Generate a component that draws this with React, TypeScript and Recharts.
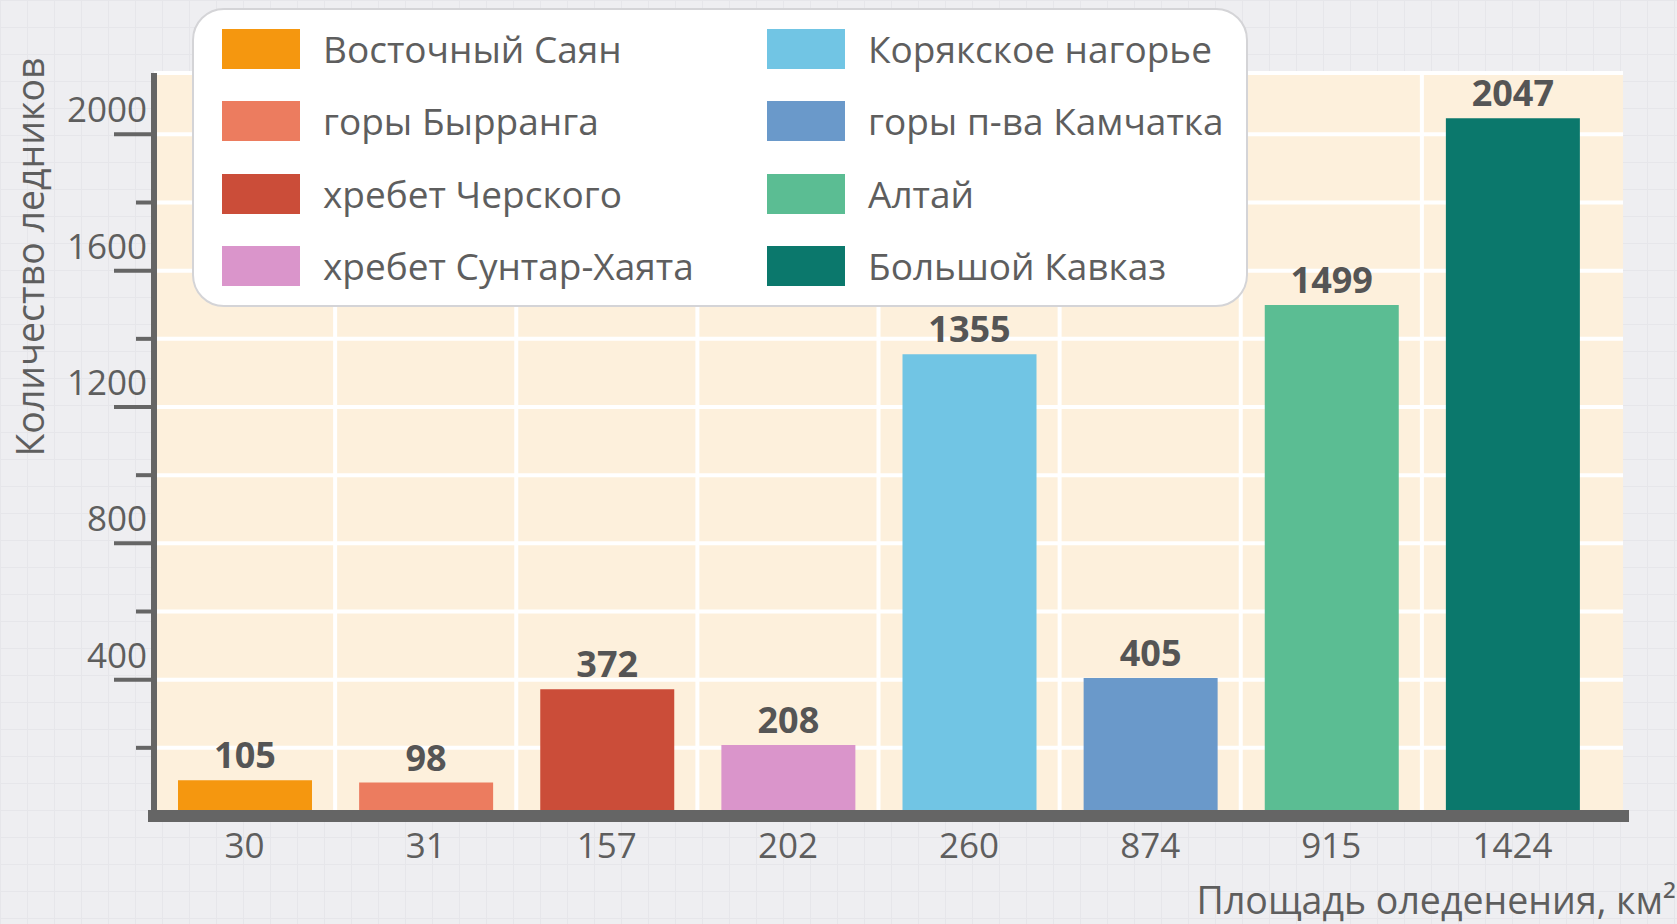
import React from 'react';
import { BarChart, Bar, XAxis, YAxis, CartesianGrid, Cell, LabelList, Legend } from 'recharts';

const areas = ['30', '31', '157', '202', '260', '874', '915', '1424'];
const regions = [
  'Восточный Саян',
  'горы Бырранга',
  'хребет Черского',
  'хребет Сунтар-Хаята',
  'Корякское нагорье',
  'горы п-ва Камчатка',
  'Алтай',
  'Большой Кавказ',
];
const glacierCounts = [105, 98, 372, 208, 1355, 405, 1499, 2047];
const barColors = ['#f5970f', '#ec7c5f', '#cb4d39', '#da95cb', '#71c5e4', '#6a99ca', '#5bbd93', '#0b786c'];
const yTicks = [0, 200, 400, 600, 800, 1000, 1200, 1400, 1600, 1800, 2000];

const data = areas.map((a, i) => ({ area: a, region: regions[i], count: glacierCounts[i] }));

const FONT = '"Open Sans", "Noto Sans", sans-serif';
const TEXT = '#5e5e5e';
const AXIS = '#656565';
const X_PAD_RIGHT = 20;

// vertical grid lines at the boundaries between category bands, from the axis' band scale
const bandBoundaries = (props: any) => {
  const { xAxis, offset } = props || {};
  const s = xAxis && xAxis.scale;
  if (s && typeof s === 'function') {
    const pts = areas
      .slice(1)
      .map((a) => s(a))
      .filter((v: any) => typeof v === 'number' && isFinite(v));
    if (pts.length === areas.length - 1) return pts;
  }
  const step = (offset.width - X_PAD_RIGHT) / areas.length;
  return areas.slice(1).map((_, i) => offset.left + step * (i + 1));
};

const YTick = (props: any) => {
  const { x, y, payload } = props;
  const v = payload.value;
  if (v === 0) return <g />;
  const major = v % 400 === 0;
  return (
    <g>
      <line x1={x - (major ? 40 : 18)} x2={x} y1={y} y2={y} stroke={AXIS} strokeWidth={4} />
      {major && (
        <text x={x - 7} y={y - 12} textAnchor="end" fill={TEXT} fontSize={35} fontFamily={FONT}>
          {v}
        </text>
      )}
    </g>
  );
};

const XTick = (props: any) => {
  const { x, y, payload } = props;
  return (
    <text x={x} y={y + 42} textAnchor="middle" fill={TEXT} fontSize={35} fontFamily={FONT}>
      {payload.value}
    </text>
  );
};

const LegendBox = () => (
  <div
    style={{
      position: 'relative',
      width: 1056,
      height: 299,
      background: '#ffffff',
      border: '2px solid #d4d4d7',
      borderRadius: 32,
      boxSizing: 'border-box',
    }}
  >
    {regions.map((r, i) => {
      const col = Math.floor(i / 4);
      const row = i % 4;
      return (
        <div
          key={r}
          style={{
            position: 'absolute',
            left: col ? 573 : 28,
            top: 19 + row * 72.3,
            height: 40,
            display: 'flex',
            alignItems: 'center',
          }}
        >
          <div style={{ width: 78, height: 40, background: barColors[i] }} />
          <span
            style={{
              marginLeft: 23,
              fontSize: 37,
              color: TEXT,
              fontFamily: FONT,
              lineHeight: '40px',
              whiteSpace: 'nowrap',
            }}
          >
            {r}
          </span>
        </div>
      );
    })}
  </div>
);

const YLabel = () => (
  <text
    transform="translate(29,257) rotate(-90)"
    textAnchor="middle"
    dominantBaseline="central"
    fill={TEXT}
    fontSize={37.5}
    fontFamily={FONT}
  >
    Количество ледников
  </text>
);

const XLabel = () => (
  <text x={1676} y={914} textAnchor="end" fill={TEXT} fontSize={37.5} fontFamily={FONT}>
    Площадь оледенения, км²
  </text>
);

export default function App() {
  return (
    <div
      style={{
        position: 'absolute',
        left: 0,
        top: 0,
        width: 1677,
        height: 924,
        backgroundColor: '#eeeef1',
        backgroundImage:
          'linear-gradient(#e6e6ea 1px, transparent 1px), linear-gradient(90deg, #e6e6ea 1px, transparent 1px)',
        backgroundSize: '27px 27px',
        overflow: 'hidden',
      }}
    >
      <BarChart width={1677} height={924} data={data} margin={{ top: 73, right: 54, bottom: 48, left: 0 }}>
        <CartesianGrid
          fill="#fdf0dc"
          fillOpacity={1}
          stroke="#ffffff"
          strokeWidth={4}
          verticalCoordinatesGenerator={bandBoundaries}
        />
        <Bar dataKey="count" barSize={134} isAnimationActive={false}>
          {data.map((d, i) => (
            <Cell key={d.area} fill={barColors[i]} />
          ))}
          <LabelList
            dataKey="count"
            position="top"
            offset={12}
            fill="#555555"
            fontSize={36}
            fontWeight={700}
            fontFamily={FONT}
          />
        </Bar>
        <XAxis
          dataKey="area"
          type="category"
          height={60}
          padding={{ left: 0, right: X_PAD_RIGHT }}
          axisLine={{ stroke: AXIS, strokeWidth: 12, strokeLinecap: 'square' }}
          tickLine={false}
          tickSize={0}
          tickMargin={0}
          tick={<XTick />}
          interval={0}
          label={<XLabel />}
        />
        <YAxis
          width={154}
          domain={[0, 2180]}
          ticks={yTicks}
          interval={0}
          axisLine={{ stroke: AXIS, strokeWidth: 6 }}
          tickLine={false}
          tickSize={0}
          tickMargin={0}
          tick={<YTick />}
          label={<YLabel />}
        />
        <Legend
          layout="vertical"
          verticalAlign="middle"
          align="center"
          content={<LegendBox />}
          wrapperStyle={{ left: 192, top: 8, width: 1056, height: 299 }}
        />
      </BarChart>
    </div>
  );
}
